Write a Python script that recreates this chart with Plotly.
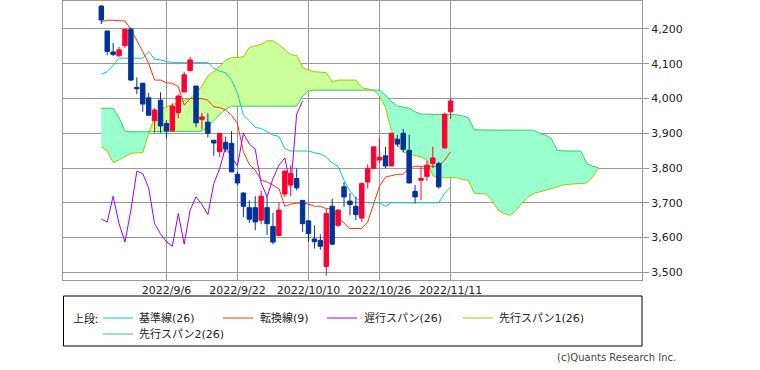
import plotly.graph_objects as go

# ---------------- data ----------------
tick_pos = [11, 23, 35, 47, 59]
tick_text = ["2022/9/6", "2022/9/22", "2022/10/10", "2022/10/26", "2022/11/11"]
y_ticks = [3500, 3600, 3700, 3800, 3900, 4000, 4100, 4200]

open_ = [4266, 4194, 4134, 4123, 4152, 4199, 4032, 4044, 4002, 3936,
         3995, 3928, 3907, 3959, 4019, 4080, 4036, 3940, 3932, 3880,
         3847, 3874, 3871, 3782, 3728, 3686, 3686, 3650, 3686, 3632,
         3606, 3725, 3751, 3770, 3707, 3648, 3596, 3592, 3517, 3690,
         3635, 3746, 3705, 3690, 3656, 3760, 3799, 3823, 3835, 3806,
         3883, 3900, 3851, 3733, 3765, 3776, 3813, 3813, 3858, 3962]
high = [4268, 4196, 4160, 4149, 4200, 4205, 4061, 4045, 4016, 3972,
        4018, 3938, 3986, 4012, 4076, 4120, 4036, 3959, 3957, 3880,
        3900, 3890, 3906, 3789, 3730, 3707, 3719, 3736, 3717, 3671,
        3700, 3795, 3808, 3799, 3707, 3650, 3635, 3609, 3683, 3712,
        3681, 3760, 3728, 3717, 3760, 3811, 3862, 3887, 3861, 3901,
        3895, 3912, 3895, 3751, 3803, 3821, 3861, 3818, 3959, 4000]
low = [4214, 4125, 4122, 4120, 4146, 4050, 4013, 3962, 3950, 3901,
       3901, 3885, 3904, 3943, 4017, 4080, 3917, 3911, 3888, 3835,
       3832, 3845, 3788, 3750, 3659, 3642, 3621, 3638, 3607, 3581,
       3604, 3716, 3719, 3736, 3616, 3587, 3568, 3565, 3490, 3578,
       3630, 3688, 3664, 3650, 3645, 3741, 3797, 3815, 3799, 3805,
       3861, 3845, 3757, 3698, 3707, 3763, 3800, 3741, 3855, 3941]
close = [4226, 4135, 4127, 4140, 4199, 4053, 4028, 3984, 3952, 3967,
         3921, 3907, 3978, 4007, 4068, 4111, 3930, 3947, 3900, 3872,
         3900, 3855, 3789, 3757, 3690, 3653, 3645, 3719, 3640, 3587,
         3679, 3791, 3784, 3743, 3640, 3611, 3588, 3575, 3669, 3581,
         3679, 3717, 3695, 3666, 3755, 3799, 3861, 3831, 3806, 3900,
         3869, 3854, 3757, 3717, 3770, 3808, 3829, 3746, 3955, 3993]

kijun = [4070, 4077, 4096, 4116, 4116, 4116, 4116, 4116, 4135, 4113,
         4111, 4106, 4104, 4104, 4104, 4104, 4104, 4104, 4104, 4087,
         4079, 4074, 4053, 4015, 3952, 3936, 3917, 3914, 3904, 3895,
         3891, 3856, 3849, 3849, 3849, 3849, 3844, 3840, 3832, 3814,
         3805, 3765, 3734, 3714, 3703, 3700, 3700, 3700, 3690, 3700,
         3700, 3700, 3700, 3700, 3700, 3700, 3700, 3700, 3728, 3746]
tenkan = [4221, 4225, 4225, 4225, 4223, 4199, 4168, 4135, 4101, 4053,
          4053, 4045, 4044, 4034, 3981, 4000, 4000, 4000, 3995, 3976,
          3974, 3967, 3952, 3928, 3847, 3810, 3794, 3765, 3760, 3751,
          3741, 3690, 3696, 3699, 3699, 3696, 3690, 3690, 3683, 3683,
          3659, 3642, 3626, 3626, 3626, 3645, 3694, 3748, 3774, 3778,
          3782, 3782, 3800, 3805, 3805, 3805, 3805, 3805, 3823, 3847]
span1 = [3861, 3849, 3816, 3823, 3834, 3842, 3844, 3844, 3900, 3945,
         3968, 3976, 3983, 3988, 3995, 4001, 4015, 4036, 4065, 4078,
         4092, 4110, 4118, 4118, 4120, 4147, 4152, 4156, 4166, 4166,
         4155, 4140, 4126, 4124, 4089, 4082, 4077, 4076, 4074, 4048,
         4053, 4053, 4053, 4053, 4031, 4027, 4024, 4007, 3974, 3908,
         3865, 3846, 3840, 3836, 3832, 3823, 3778, 3772, 3772, 3772,
         3772, 3767, 3765, 3728, 3727, 3725, 3707, 3679, 3669, 3664,
         3677, 3698, 3715, 3727, 3731, 3736, 3741, 3744, 3751, 3753,
         3755, 3755, 3757, 3775, 3799]
span2 = [3972, 3972, 3972, 3945, 3906, 3904, 3904, 3904, 3904, 3904,
         3904, 3904, 3904, 3904, 3904, 3904, 3904, 3906, 3919, 3938,
         3954, 3969, 3978, 3978, 3978, 3978, 3978, 3978, 3978, 3978,
         3978, 3978, 3978, 3978, 4007, 4022, 4024, 4024, 4024, 4024,
         4024, 4024, 4024, 4024, 4024, 4024, 4024, 4024, 4010, 3991,
         3978, 3974, 3972, 3962, 3955, 3955, 3955, 3955, 3955, 3955,
         3953, 3950, 3945, 3910, 3909, 3909, 3909, 3909, 3909, 3909,
         3909, 3909, 3909, 3909, 3900, 3895, 3885, 3851, 3849, 3849,
         3849, 3849, 3813, 3805, 3801]
chikou_shift = 25

idx = list(range(len(close)))
cloud_idx = list(range(len(span1)))
chikou_x = idx[:len(close) - chikou_shift]
chikou_y = close[chikou_shift:]

C_KIJUN = "#00CCCC"
C_TENKAN = "#FF3300"
C_CHIKOU = "#9900FF"
C_SPAN1 = "#99CC00"
C_SPAN2 = "#33CC66"
FILL_UP = "#CCFF99"
FILL_DN = "#99FFCC"

X_RANGE = [-6.47, 91.33]
Y_RANGE = [3477.9, 4280.5]

fig = go.Figure()

# ---------------- cloud fill split at crossings ----------------
pts = []
for i in range(len(cloud_idx)):
    pts.append((cloud_idx[i], span1[i], span2[i]))
    if i < len(cloud_idx) - 1:
        d0 = span1[i] - span2[i]
        d1 = span1[i + 1] - span2[i + 1]
        if d0 * d1 < 0:
            t = d0 / (d0 - d1)
            xc = cloud_idx[i] + t
            yc = span1[i] + t * (span1[i + 1] - span1[i])
            pts.append((xc, yc, yc))

groups = []
cur = [pts[0]]
cur_sign = None
for a, b in zip(pts[:-1], pts[1:]):
    s = (a[1] - a[2]) + (b[1] - b[2]) >= 0
    if cur_sign is None or s == cur_sign:
        cur.append(b)
        cur_sign = s
    else:
        groups.append((cur_sign, cur))
        cur = [a, b]
        cur_sign = s
groups.append((cur_sign, cur))

for sign, g in groups:
    xs = [p[0] for p in g] + [p[0] for p in reversed(g)]
    ys = [p[1] for p in g] + [p[2] for p in reversed(g)]
    fig.add_trace(go.Scatter(x=xs, y=ys, fill="toself", mode="lines",
                             line=dict(width=0),
                             fillcolor=FILL_UP if sign else FILL_DN,
                             hoverinfo="skip"))

fig.add_trace(go.Scatter(x=cloud_idx, y=span2, mode="lines",
                         line=dict(color=C_SPAN2, width=1)))
fig.add_trace(go.Scatter(x=cloud_idx, y=span1, mode="lines",
                         line=dict(color=C_SPAN1, width=1)))
fig.add_trace(go.Scatter(x=idx, y=kijun, mode="lines",
                         line=dict(color=C_KIJUN, width=1)))
fig.add_trace(go.Scatter(x=idx, y=tenkan, mode="lines",
                         line=dict(color=C_TENKAN, width=1)))
fig.add_trace(go.Scatter(x=chikou_x, y=chikou_y, mode="lines",
                         line=dict(color=C_CHIKOU, width=1)))

# candles on an overlaying axis pair so they sit above the cloud
fig.add_trace(go.Candlestick(
    x=idx, open=open_, high=high, low=low, close=close,
    xaxis="x2", yaxis="y2",
    increasing=dict(line=dict(color="#FF0033", width=1), fillcolor="#FF0033"),
    decreasing=dict(line=dict(color="#003399", width=1), fillcolor="#003399"),
    whiskerwidth=0,
))

GRID = "#999999"
fig.update_layout(
    width=760, height=370,
    margin=dict(l=63, r=118, t=1, b=90),
    paper_bgcolor="white", plot_bgcolor="white",
    showlegend=False,
    boxgap=0.25, boxgroupgap=0,
    font=dict(family="DejaVu Sans", size=11, color="#333333"),
    xaxis=dict(range=X_RANGE, tickmode="array", tickvals=tick_pos,
               ticktext=tick_text, showgrid=True, gridcolor=GRID, gridwidth=1,
               showline=True, linecolor=GRID, linewidth=1, mirror=True,
               ticks="", zeroline=False, rangeslider=dict(visible=False),
               tickfont=dict(family="DejaVu Sans", size=11, color="#222222")),
    yaxis=dict(range=Y_RANGE, side="right", tickmode="array",
               tickvals=y_ticks, tickformat=",d", showgrid=True,
               gridcolor=GRID, gridwidth=1, showline=True, linecolor=GRID,
               linewidth=1, mirror=True, ticks="outside", ticklen=6,
               tickcolor=GRID, zeroline=False,
               tickfont=dict(family="DejaVu Sans", size=11, color="#222222")),
    xaxis2=dict(range=X_RANGE, overlaying="x", visible=False,
                showgrid=False, zeroline=False, rangeslider=dict(visible=False)),
    yaxis2=dict(range=Y_RANGE, overlaying="y", side="right", visible=False,
                showgrid=False, zeroline=False),
)

# ---------------- legend drawn as shapes + text ----------------
def px_x(px):
    return (px - 63) / 579.0

def px_y(py):
    return (280 - py) / 279.0

shapes = [dict(type="rect", xref="paper", yref="paper",
               x0=px_x(63.5), x1=px_x(642), y0=px_y(346), y1=px_y(296),
               line=dict(color="black", width=1), fillcolor="rgba(0,0,0,0)")]
annos = [dict(xref="paper", yref="paper", x=px_x(71), y=px_y(318),
              xanchor="left", yanchor="middle", showarrow=False,
              text="上段:", font=dict(family="Noto Sans CJK JP", size=11, color="#222222"))]

legend_items = [
    ("基準線(26)", C_KIJUN, 103, 133, 137, 318),
    ("転換線(9)", C_TENKAN, 223, 253, 258, 318),
    ("遅行スパン(26)", C_CHIKOU, 327, 357, 362, 318),
    ("先行スパン1(26)", C_SPAN1, 463, 493, 497, 318),
    ("先行スパン2(26)", C_SPAN2, 103, 133, 137, 334),
]
for label, col, lx0, lx1, tx, ty in legend_items:
    shapes.append(dict(type="line", xref="paper", yref="paper",
                       x0=px_x(lx0), x1=px_x(lx1), y0=px_y(ty), y1=px_y(ty),
                       line=dict(color=col, width=1)))
    annos.append(dict(xref="paper", yref="paper", x=px_x(tx), y=px_y(ty),
                      xanchor="left", yanchor="middle", showarrow=False,
                      text=label,
                      font=dict(family="DejaVu Sans, Noto Sans CJK JP", size=11, color="#222222")))

annos.append(dict(xref="paper", yref="paper", x=px_x(678), y=px_y(357),
                  xanchor="right", yanchor="middle", showarrow=False,
                  text="(c)Quants Research Inc.",
                  font=dict(family="DejaVu Sans", size=10, color="#444444")))

fig.update_layout(shapes=shapes, annotations=annos)

fig.write_html("out.html", config={"displayModeBar": False},
               post_script="document.body.style.margin='0';document.body.style.overflow='hidden';")
